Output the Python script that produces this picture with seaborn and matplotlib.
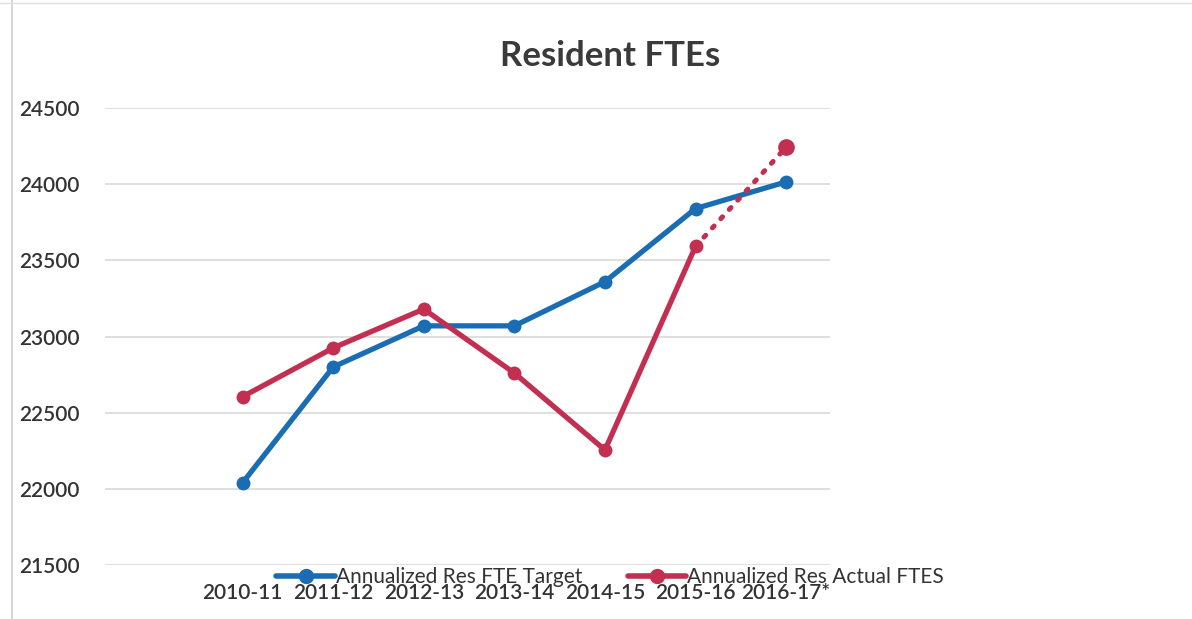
import numpy as np
import pandas as pd
import matplotlib.pyplot as plt
import seaborn as sns
from matplotlib.lines import Line2D

years = ['2010-11', '2011-12', '2012-13', '2013-14', '2014-15', '2015-16', '2016-17*']
target = [22040, 22800, 23070, 23070, 23360, 23840, 24015]
actual = [22605, 22925, 23180, 22760, 22255, 23592]
projected = 24243

blue = '#1b6db3'
red = '#c22f50'

sns.set_theme(style='white')
plt.rcParams['font.family'] = ['Lato', 'DejaVu Sans']

df_t = pd.DataFrame({'x': np.arange(len(years)), 'y': target})
df_a = pd.DataFrame({'x': np.arange(len(actual)), 'y': actual})

fig = plt.figure(figsize=(11.92, 6.19), dpi=100)
ax = fig.add_axes([0.088, 0.0872, 0.608, 0.7383])

sns.lineplot(data=df_t, x='x', y='y', ax=ax, color=blue, lw=3.8,
             marker='o', markersize=10, markeredgewidth=0, zorder=3)
sns.lineplot(data=df_a, x='x', y='y', ax=ax, color=red, lw=3.8,
             marker='o', markersize=10, markeredgewidth=0, zorder=4)
# projected segment, dotted
ax.plot([len(actual) - 1, len(actual)], [actual[-1], projected], color=red,
        lw=3.6, ls=(0, (0.5, 2.0)), dash_capstyle='round', zorder=4)
ax.plot([len(actual)], [projected], 'o', color=red, markersize=11, zorder=5)

ax.set_ylim(21500, 24500)
ax.set_xlim(-1.52, 6.48)
ax.set_yticks(np.arange(21500, 24501, 500))
ax.grid(axis='y', color='#d9d9d9', lw=1.2)
ax.set_xticks(range(len(years)))
ax.set_xticklabels(years)
ax.tick_params(axis='x', labelsize=15, pad=13, colors='#333333', length=0)
ax.tick_params(axis='y', labelsize=15, pad=18, colors='#333333', length=0)
for lbl in ax.get_xticklabels() + ax.get_yticklabels():
    lbl.set_fontweight('semibold')
ax.set_xlabel('')
ax.set_ylabel('')
for s in ax.spines.values():
    s.set_visible(False)

fig.text(0.512, 0.91, 'Resident FTEs', ha='center', va='center',
         fontsize=25, fontweight='bold', color='#3a3a3a')

handles = [Line2D([], [], color=blue, lw=4, marker='o', markersize=10),
           Line2D([], [], color=red, lw=4, marker='o', markersize=10)]
fig.legend(handles, ['Annualized Res FTE Target', 'Annualized Res Actual FTES'],
           loc='center', bbox_to_anchor=(0.512, 0.068), ncol=2, frameon=False,
           fontsize=15, handlelength=2.8, handletextpad=0.05, columnspacing=2.2,
           labelcolor='#333333')

fig.add_artist(Line2D([0.01, 0.01], [0.0, 1.0], color='#d0d0d0', lw=1.2))
fig.add_artist(Line2D([0.0, 1.0], [0.995, 0.995], color='#e0e0e0', lw=1.0))

fig.savefig('out.png', dpi=100)
